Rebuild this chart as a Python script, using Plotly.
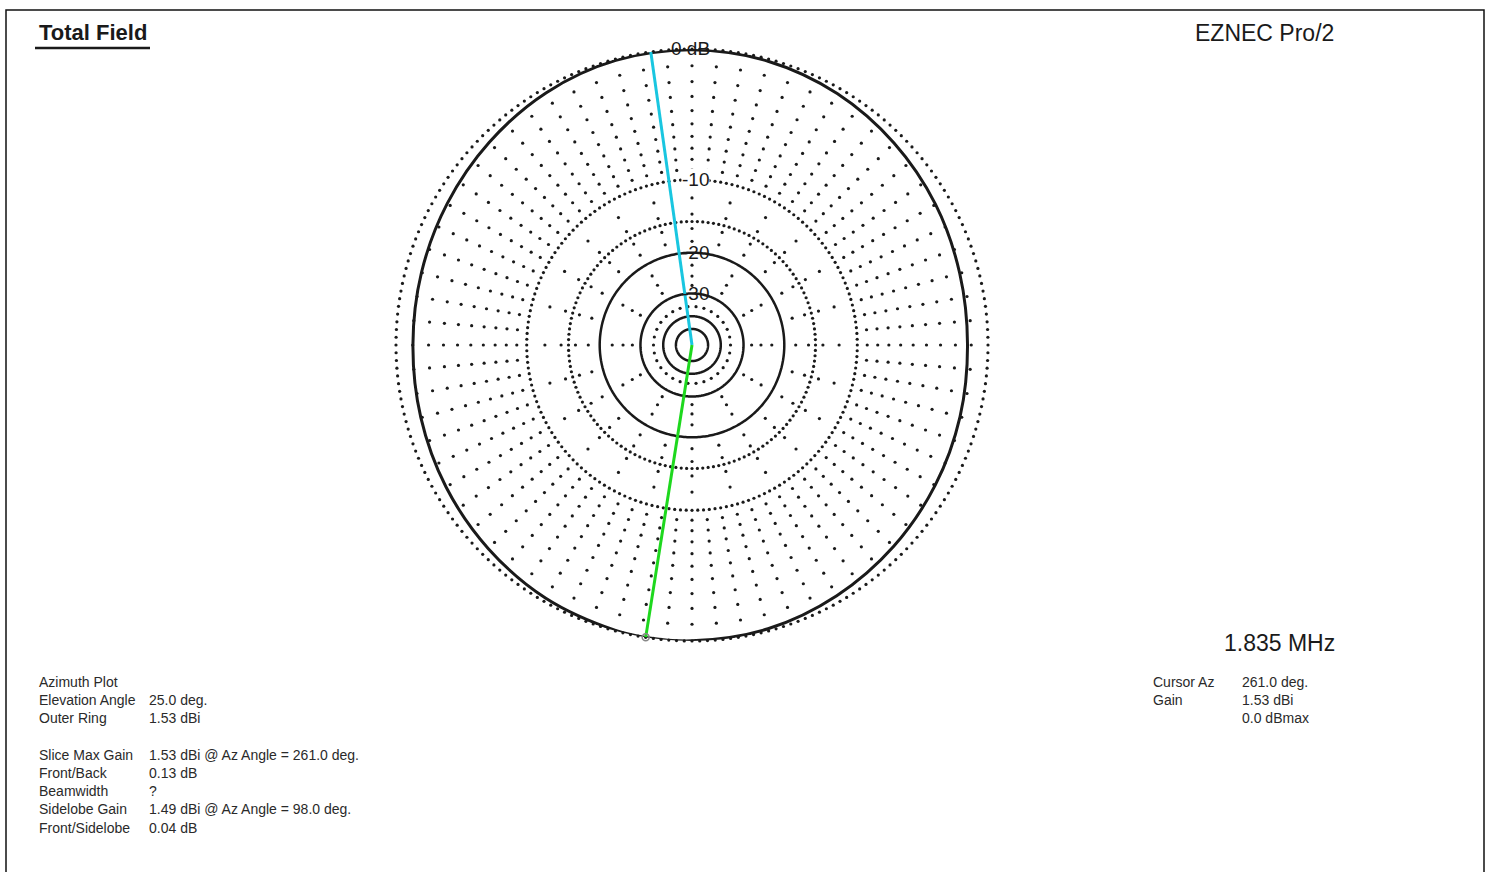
import numpy as np
import plotly.graph_objects as go

# ---------------- data ----------------
azimuth_deg = [0, 15, 30, 45, 60, 75, 90, 105, 120, 135, 150, 165, 180,
               195, 210, 225, 240, 255, 261, 270, 285, 300, 315, 330, 345, 360]
gain_dbi = [0.30, 0.40, 0.65, 0.92, 1.20, 1.40, 1.48, 1.45, 1.26, 0.98, 0.74, 0.58, 0.52,
            0.62, 0.82, 1.06, 1.32, 1.50, 1.53, 1.52, 1.40, 1.15, 0.88, 0.62, 0.42, 0.30]
outer_ring_dbi = 1.53
cursor_az = 261.0
marker_az = 98.0

ring_labels = ["0 dB", "-10", "-20", "-30"]
ring_label_db = [0, 10, 20, 30]
solid_ring_db = [20, 30, 40, 50]
dotted_ring_db = [0, 10, 15, 35]
dotted_ring_step = [1.5, 2.0, 2.5, 12.0]
spoke_step_deg = [5, 15, 30]
spoke_dot_db = [[1, 2, 3, 4, 5, 6, 7, 8, 9], [12, 14, 16, 18], [22.5, 25, 27.5]]

left_labels = ["Azimuth Plot", "Elevation Angle", "Outer Ring", "", "Slice Max Gain",
               "Front/Back", "Beamwidth", "Sidelobe Gain", "Front/Sidelobe"]
left_values = ["", "25.0 deg.", "1.53 dBi", "", "1.53 dBi @ Az Angle = 261.0 deg.",
               "0.13 dB", "?", "1.49 dBi @ Az Angle = 98.0 deg.", "0.04 dB"]
right_labels = ["Cursor Az", "Gain", ""]
right_values = ["261.0 deg.", "1.53 dBi", "0.0 dBmax"]


def arrl(db_below):
    return 0.89 ** (np.asarray(db_below, dtype=float) / 2.0)


W, H = 1491, 872
CX, CY, R = 692, 345, 296
INK = "#1a1a1a"

fig = go.Figure()

# dotted rings (made of dots)
for db, step in zip(dotted_ring_db, dotted_ring_step):
    th = np.arange(0, 360, step)
    fig.add_trace(go.Scatterpolar(r=np.full(th.shape, arrl(db)), theta=th, mode="markers",
                                  marker=dict(size=3.2, color=INK), hoverinfo="skip"))

# radial dotted spokes
for step, dbs in zip(spoke_step_deg, spoke_dot_db):
    th_list, r_list = [], []
    for a in np.arange(0, 360, step):
        for db in dbs:
            th_list.append(a)
            r_list.append(float(arrl(db)))
    fig.add_trace(go.Scatterpolar(r=r_list, theta=th_list, mode="markers",
                                  marker=dict(size=3.2, color=INK), hoverinfo="skip"))

# solid rings
for db in solid_ring_db:
    th = np.linspace(0, 360, 361)
    fig.add_trace(go.Scatterpolar(r=np.full(th.shape, arrl(db)), theta=th, mode="lines",
                                  line=dict(color=INK, width=2.5), hoverinfo="skip"))

# pattern
pat_r = arrl(outer_ring_dbi - np.asarray(gain_dbi))
fig.add_trace(go.Scatterpolar(r=pat_r, theta=azimuth_deg, mode="lines",
                              line=dict(color=INK, width=3, shape="spline", smoothing=1.0),
                              hoverinfo="skip"))

# cursor lines
fig.add_trace(go.Scatterpolar(r=[0, 1], theta=[marker_az, marker_az], mode="lines",
                              line=dict(color="#19c6e0", width=3), hoverinfo="skip"))
cur_r = float(np.interp(cursor_az, azimuth_deg, pat_r))
fig.add_trace(go.Scatterpolar(r=[0, cur_r], theta=[cursor_az, cursor_az], mode="lines",
                              line=dict(color="#1ed81e", width=3), hoverinfo="skip"))
fig.add_trace(go.Scatterpolar(r=[cur_r], theta=[cursor_az], mode="markers",
                              marker=dict(size=7, color="rgba(0,0,0,0)",
                                          line=dict(color="#888888", width=1.5)),
                              hoverinfo="skip"))

dom_x = [(CX - R) / W, (CX + R) / W]
dom_y = [(H - (CY + R)) / H, (H - (CY - R)) / H]

fig.update_layout(
    width=W, height=H, margin=dict(l=0, r=0, t=0, b=0),
    paper_bgcolor="white", plot_bgcolor="white", showlegend=False,
    polar=dict(
        domain=dict(x=dom_x, y=dom_y), bgcolor="rgba(0,0,0,0)",
        angularaxis=dict(direction="counterclockwise", rotation=0, showgrid=False,
                         showticklabels=False, showline=False, ticks=""),
        radialaxis=dict(range=[0, 1], visible=False, showgrid=False),
    ),
)

FONT = "Liberation Sans, Arial, sans-serif"
ann = []
# ring labels on the vertical axis
for lab, db in zip(ring_labels, ring_label_db):
    ypx = CY - R * float(arrl(db))
    if db == 0:
        ann.append(dict(x=(CX - 2) / W, y=1 - (ypx - 1) / H, text=lab, xanchor="center",
                        yanchor="middle", showarrow=False, font=dict(size=19, color=INK, family=FONT)))
    elif db == 10:
        ann.append(dict(x=(CX + 3) / W, y=1 - ypx / H, text=lab, xanchor="center",
                        yanchor="middle", showarrow=False, bgcolor="white", borderpad=0,
                        font=dict(size=19, color=INK, family=FONT)))
    else:
        ann.append(dict(x=(CX + 3) / W, y=1 - ypx / H, text=lab, xanchor="center",
                        yanchor="middle", showarrow=False,
                        font=dict(size=19, color=INK, family=FONT)))

ann.append(dict(x=37 / W, y=1 - 33 / H, text="<b>Total Field</b>", xanchor="left", yanchor="middle",
                showarrow=False, font=dict(size=22, color=INK, family=FONT)))
ann.append(dict(x=1336 / W, y=1 - 33 / H, text="EZNEC Pro/2", xanchor="right", yanchor="middle",
                showarrow=False, font=dict(size=23, color=INK, family=FONT)))
ann.append(dict(x=1337 / W, y=1 - 643 / H, text="1.835 MHz", xanchor="right", yanchor="middle",
                showarrow=False, font=dict(size=23, color=INK, family=FONT)))

small = dict(size=14, color="#2a2a2a", family=FONT)
for i, (lab, val) in enumerate(zip(left_labels, left_values)):
    ypx = 682 + 18.2 * i
    if lab:
        ann.append(dict(x=37 / W, y=1 - ypx / H, text=lab, xanchor="left", yanchor="middle",
                        showarrow=False, font=small))
    if val:
        ann.append(dict(x=147 / W, y=1 - ypx / H, text=val, xanchor="left", yanchor="middle",
                        showarrow=False, font=small))
for i, (lab, val) in enumerate(zip(right_labels, right_values)):
    ypx = 682 + 18.2 * i
    if lab:
        ann.append(dict(x=1151 / W, y=1 - ypx / H, text=lab, xanchor="left", yanchor="middle",
                        showarrow=False, font=small))
    if val:
        ann.append(dict(x=1240 / W, y=1 - ypx / H, text=val, xanchor="left", yanchor="middle",
                        showarrow=False, font=small))

fig.update_layout(annotations=ann)

fig.update_layout(shapes=[
    dict(type="rect", xref="paper", yref="paper", x0=6 / W, x1=1484 / W, y0=-0.05, y1=1 - 10 / H,
         line=dict(color="#111111", width=1.5)),
    dict(type="line", xref="paper", yref="paper", x0=35 / W, x1=150 / W, y0=1 - 48 / H, y1=1 - 48 / H,
         line=dict(color=INK, width=2.5)),
])

fig.write_html("out.html", config={"displayModeBar": False},
               post_script="document.body.style.margin='0';document.body.style.overflow='hidden';")
